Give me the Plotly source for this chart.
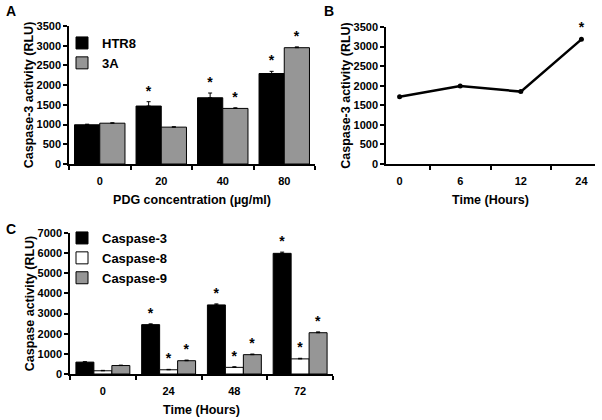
import plotly.graph_objects as go

# ---------------- data ----------------
conc_labels = ["0", "20", "40", "80"]
htr8_vals = [995, 1470, 1680, 2295]
htr8_err = [15, 110, 120, 55]
htr8_sig = ["", "*", "*", "*"]
a3_vals = [1035, 935, 1410, 2950]
a3_err = [10, 10, 15, 20]
a3_sig = ["", "", "*", "*"]

time_b = ["0", "6", "12", "24"]
casp3_b = [1720, 1990, 1850, 3185]
sig_b = ["", "", "", "*"]

time_c = ["0", "24", "48", "72"]
casp3_c = [590, 2450, 3430, 5990]
casp3_err = [20, 40, 50, 60]
casp3_sig = ["", "*", "*", "*"]
casp8_c = [160, 210, 330, 750]
casp8_err = [20, 20, 30, 30]
casp8_sig = ["", "*", "*", "*"]
casp9_c = [420, 660, 960, 2050]
casp9_err = [20, 30, 30, 40]
casp9_sig = ["", "*", "*", "*"]

W, H = 602, 420
FONT = "Liberation Sans, Arial, sans-serif"
GRAY = "#969696"

def px(x):
    return x / W

def py(y):
    return 1 - y / H

fig = go.Figure()

def add_bar_series(x, vals, err, sig, color, name, xa, ya, grp, legend):
    fig.add_trace(go.Bar(
        x=x, y=vals, name=name, xaxis=xa, yaxis=ya, offsetgroup=grp,
        marker=dict(color=color, line=dict(color="black", width=1)),
        error_y=dict(type="data", symmetric=False, array=err,
                     arrayminus=[0] * len(err), color="black",
                     thickness=1, width=2),
        legend=legend, showlegend=True,
    ))
    tops = [v + e for v, e in zip(vals, err)]
    fig.add_trace(go.Bar(
        x=x, y=tops, xaxis=xa, yaxis=ya, offsetgroup=grp,
        marker=dict(color="rgba(0,0,0,0)", line=dict(width=0)),
        text=sig, textposition="outside", cliponaxis=False,
        constraintext="none",
        textfont=dict(family=FONT, size=14, color="black", weight="bold"),
        showlegend=False, hoverinfo="skip",
    ))

# Panel A
add_bar_series(conc_labels, htr8_vals, htr8_err, htr8_sig, "black", "HTR8", "x", "y", "a1", "legend")
add_bar_series(conc_labels, a3_vals, a3_err, a3_sig, GRAY, "3A", "x", "y", "a2", "legend")

# Panel B
fig.add_trace(go.Scatter(
    x=time_b, y=casp3_b, xaxis="x2", yaxis="y2", mode="lines+markers+text",
    line=dict(color="black", width=2.5), marker=dict(color="black", size=5),
    text=sig_b, textposition="top center", cliponaxis=False,
    textfont=dict(family=FONT, size=14, color="black", weight="bold"),
    showlegend=False,
))

# Panel C
add_bar_series(time_c, casp3_c, casp3_err, casp3_sig, "black", "Caspase-3", "x3", "y3", "c1", "legend2")
add_bar_series(time_c, casp8_c, casp8_err, casp8_sig, "white", "Caspase-8", "x3", "y3", "c2", "legend2")
add_bar_series(time_c, casp9_c, casp9_err, casp9_sig, GRAY, "Caspase-9", "x3", "y3", "c3", "legend2")

tickfont = dict(family=FONT, size=11, color="black", weight="bold")
titlefont = dict(family=FONT, size=12.5, color="black", weight="bold")

def xaxis(domain, anchor, title):
    return dict(domain=domain, anchor=anchor, type="category",
                showline=True, linecolor="black", linewidth=1.5,
                ticks="outside", tickson="boundaries", ticklen=4,
                tickcolor="black", tickwidth=1.5, ticklabelstandoff=6,
                tickfont=tickfont, showgrid=False, zeroline=False,
                title=dict(text=title, font=titlefont, standoff=9),
                automargin=False, fixedrange=True)

def yaxis(domain, anchor, rng, dtick, title):
    return dict(domain=domain, anchor=anchor, range=rng, dtick=dtick,
                showline=True, linecolor="black", linewidth=1.5,
                ticks="outside", ticklen=4, tickcolor="black", tickwidth=1.5,
                tickfont=tickfont, showgrid=False, zeroline=False,
                title=dict(text=title, font=titlefont, standoff=0),
                automargin=False, fixedrange=True)

legfont = dict(family=FONT, size=13, color="black", weight="bold")

fig.update_layout(
    width=W, height=H, margin=dict(l=0, r=0, t=0, b=0, autoexpand=False),
    paper_bgcolor="white", plot_bgcolor="white",
    barmode="group", bargap=0.18, bargroupgap=0,
    xaxis=xaxis([px(69), px(315)], "y", "PDG concentration (µg/ml)"),
    yaxis=yaxis([py(164), py(26)], "x", [0, 3500], 500, "Caspase-3 activity (RLU)"),
    xaxis2=xaxis([px(386), px(595)], "y2", "Time (Hours)"),
    yaxis2=yaxis([py(164), py(27)], "x2", [0, 3500], 500, "Caspase-3 activity (RLU)"),
    xaxis3=xaxis([px(70), px(333)], "y3", "Time (Hours)"),
    yaxis3=yaxis([py(374), py(233)], "x3", [0, 7000], 1000, "Caspase activity (RLU)"),
    legend=dict(x=px(62), y=py(28), xanchor="left", yanchor="top",
                bgcolor="rgba(0,0,0,0)", font=legfont, itemwidth=30,
                tracegroupgap=0, traceorder="normal"),
    legend2=dict(x=px(62), y=py(223), xanchor="left", yanchor="top",
                 bgcolor="rgba(0,0,0,0)", font=legfont, itemwidth=30,
                 tracegroupgap=0, traceorder="normal"),
    annotations=[
        dict(text="A", x=px(4), y=py(11), xref="paper", yref="paper",
             xanchor="left", yanchor="middle", showarrow=False,
             font=dict(family=FONT, size=14, color="black", weight="bold")),
        dict(text="B", x=px(322), y=py(11), xref="paper", yref="paper",
             xanchor="left", yanchor="middle", showarrow=False,
             font=dict(family=FONT, size=14, color="black", weight="bold")),
        dict(text="C", x=px(4), y=py(229), xref="paper", yref="paper",
             xanchor="left", yanchor="middle", showarrow=False,
             font=dict(family=FONT, size=14, color="black", weight="bold")),
    ],
)

fig.write_html(
    "out.html",
    config={"displayModeBar": False},
    post_script="document.body.style.margin='0';document.body.style.overflow='hidden';",
)
